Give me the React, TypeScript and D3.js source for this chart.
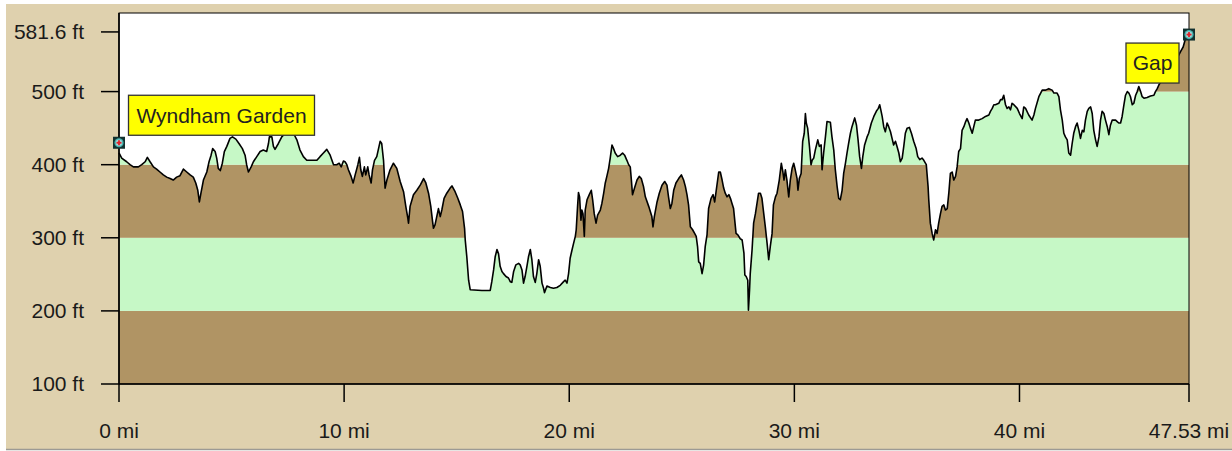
import React from "react";
import * as d3 from "d3";

// ---- data ----
const distanceMi = [
  0.00, 0.12, 0.34, 0.49, 0.64, 0.86, 1.01, 1.16, 1.26, 1.38, 1.53, 1.67, 1.82, 1.97, 2.12, 2.27, 2.41, 2.56, 2.71, 2.86,
  3.01, 3.16, 3.30, 3.41, 3.50, 3.57, 3.64, 3.75, 3.90, 4.00, 4.09, 4.16, 4.27, 4.34, 4.41, 4.50, 4.59, 4.68, 4.79, 4.93,
  5.04, 5.19, 5.33, 5.48, 5.60, 5.67, 5.75, 5.87, 5.97, 6.12, 6.27, 6.41, 6.56, 6.64, 6.68, 6.79, 6.86, 6.93, 7.08, 7.23,
  7.38, 7.53, 7.75, 7.90, 8.04, 8.19, 8.34, 8.56, 8.79, 8.93, 9.08, 9.23, 9.38, 9.53, 9.67, 9.78, 9.87, 9.97, 10.04, 10.12,
  10.19, 10.31, 10.40, 10.49, 10.61, 10.68, 10.74, 10.81, 10.90, 10.96, 11.05, 11.11, 11.20, 11.26, 11.35, 11.45, 11.60, 11.67, 11.75, 11.82,
  11.90, 12.04, 12.19, 12.34, 12.49, 12.64, 12.74, 12.83, 12.86, 12.93, 13.08, 13.23, 13.38, 13.53, 13.63, 13.75, 13.85, 13.93, 13.97, 14.04,
  14.15, 14.19, 14.27, 14.34, 14.44, 14.56, 14.71, 14.79, 14.93, 15.05, 15.16, 15.26, 15.35, 15.38, 15.45, 15.53, 15.60, 16.12, 16.49, 16.56,
  16.64, 16.71, 16.79, 16.86, 16.93, 17.01, 17.08, 17.19, 17.30, 17.38, 17.45, 17.53, 17.63, 17.75, 17.82, 17.90, 17.97, 18.04, 18.12, 18.19,
  18.27, 18.34, 18.41, 18.49, 18.56, 18.64, 18.71, 18.79, 18.86, 18.90, 19.01, 19.16, 19.30, 19.45, 19.60, 19.75, 19.82, 19.90, 19.97, 20.04,
  20.12, 20.19, 20.27, 20.31, 20.37, 20.41, 20.46, 20.52, 20.56, 20.61, 20.67, 20.71, 20.79, 20.89, 20.98, 21.04, 21.11, 21.19, 21.26, 21.38,
  21.45, 21.53, 21.60, 21.67, 21.75, 21.82, 21.90, 21.97, 22.04, 22.15, 22.27, 22.37, 22.46, 22.56, 22.64, 22.71, 22.76, 22.81, 22.90, 23.01,
  23.11, 23.20, 23.30, 23.38, 23.53, 23.67, 23.72, 23.78,
  23.90, 24.00, 24.12, 24.24, 24.34, 24.41, 24.49, 24.56, 24.64, 24.74, 24.86, 24.98, 25.08, 25.16, 25.23, 25.30, 25.38, 25.48, 25.57, 25.64,
  25.70, 25.75, 25.82, 25.90, 25.97, 26.04, 26.12, 26.19, 26.30, 26.39, 26.46, 26.53, 26.64, 26.71, 26.79, 26.86, 26.93, 27.01, 27.09, 27.16,
  27.23, 27.30, 27.41, 27.49, 27.59, 27.68, 27.76, 27.80, 27.86, 27.93, 27.96, 28.01, 28.04, 28.12, 28.19, 28.27, 28.34, 28.41, 28.49, 28.56,
  28.64, 28.71, 28.79, 28.86, 28.93, 29.01, 29.07, 29.16, 29.23, 29.33, 29.42, 29.49, 29.54, 29.60, 29.67, 29.75, 29.82, 29.90, 29.97, 30.04,
  30.12, 30.16, 30.22, 30.30, 30.37, 30.44, 30.49, 30.53, 30.59, 30.67, 30.74, 30.79, 30.86, 30.93, 31.04, 31.11, 31.19, 31.23, 31.30, 31.38,
  31.45, 31.60, 31.67, 31.75, 31.82, 31.90, 31.97, 32.04, 32.12, 32.19, 32.27, 32.34, 32.41, 32.49, 32.56, 32.68, 32.76, 32.83, 32.90, 32.98,
  33.04, 33.12, 33.23, 33.30, 33.42, 33.53, 33.64, 33.73, 33.79, 33.84, 33.90, 33.97, 34.04, 34.12, 34.19, 34.27, 34.34, 34.41, 34.49, 34.56,
  34.64, 34.71, 34.79, 34.86, 34.93, 35.01, 35.11, 35.20, 35.30, 35.41, 35.48, 35.57, 35.67, 35.75, 35.86,
  35.94, 35.97, 36.04, 36.12, 36.19, 36.27, 36.34, 36.41, 36.49, 36.56, 36.64, 36.71, 36.79, 36.86, 36.93, 37.01, 37.08, 37.16, 37.23, 37.30,
  37.38, 37.45, 37.53, 37.61, 37.67, 37.75, 37.82, 37.90, 37.97, 38.04, 38.19, 38.34, 38.49, 38.64, 38.71, 38.79, 38.86, 38.93, 39.08, 39.16,
  39.23, 39.30, 39.38, 39.45, 39.53, 39.60, 39.67, 39.75, 39.90, 40.00, 40.12, 40.19, 40.27, 40.41, 40.56, 40.64, 40.71, 40.86, 41.01, 41.16,
  41.30, 41.45, 41.53, 41.67, 41.75, 41.82, 41.90, 41.97, 42.04, 42.12, 42.19, 42.27, 42.34, 42.41, 42.49, 42.56, 42.64, 42.71, 42.79, 42.86,
  42.93, 43.01, 43.08, 43.16, 43.23, 43.30, 43.38, 43.45, 43.53, 43.60, 43.67, 43.75, 43.82, 43.90, 43.97, 44.04, 44.12, 44.27, 44.34, 44.41,
  44.49, 44.56, 44.64, 44.71, 44.79, 44.86, 44.93, 45.01, 45.08, 45.16, 45.23, 45.30, 45.38, 45.45, 45.53, 45.67, 45.82, 45.97, 46.04, 46.12,
  46.19, 46.34, 46.56, 46.79, 47.01, 47.16, 47.27, 47.36, 47.47, 47.53,
];

const elevationFt = [
  416, 409, 404, 400, 397, 397, 400, 404, 410, 404, 397, 394, 390, 386, 383, 381, 379, 383, 385, 394,
  390, 386, 383, 375, 365, 349, 361, 379, 390, 404, 413, 422, 418, 409, 395, 392, 402, 418, 425, 436,
  438, 435, 429, 422, 413, 400, 390, 397, 404, 411, 418, 420, 418, 429, 438, 438, 425, 421, 429, 438,
  443, 444, 443, 434, 420, 411, 406, 406, 406, 411, 416, 421, 413, 400, 400, 402, 397, 405, 404, 400,
  393, 384, 375, 386, 400, 410, 393, 384, 397, 386, 397, 386, 375, 393, 406, 411, 432, 429, 406, 368,
  379, 393, 402, 395, 377, 363, 343, 327, 320, 343, 359, 365, 372, 381, 375, 361, 343, 322, 313, 318,
  334, 340, 329, 338, 354, 361, 368, 371, 363, 354, 345, 336, 313, 297, 274, 242, 229, 228, 228, 240,
  256, 274, 284, 278, 261, 254, 251, 247, 245, 240, 239, 254, 263, 265, 263, 256, 238, 247, 261, 274,
  284, 270, 247, 239, 251, 270, 261, 238, 231, 225, 234, 232, 231, 232, 235, 240, 242, 238, 251, 272,
  283, 292, 302, 311, 343, 362, 356, 324, 338, 333, 302, 338, 352, 359, 365, 352, 333, 320, 331, 338,
  347, 361, 375, 384, 395, 409, 427, 422, 416, 411, 413, 416, 413, 406, 400, 397, 379, 359, 368, 379,
  384, 381, 370, 356, 343, 329, 315, 329,
  349, 361, 372, 377, 372, 356, 340, 347, 365, 375, 381, 386, 379, 370, 359, 345, 315, 311, 306, 302,
  288, 267, 265, 251, 263, 288, 304, 340, 354, 359, 349, 365, 390, 390, 379, 368, 361, 356, 359, 354,
  347, 340, 306, 304, 299, 297, 279, 249, 247, 242, 201, 229, 251, 283, 320, 333, 347, 361, 361, 354,
  333, 315, 292, 270, 288, 306, 345, 356, 361, 379, 402, 390, 379, 393, 379, 356, 379, 395, 402, 393,
  381, 365, 381, 388, 432, 443, 470, 457, 450, 425, 400, 406, 409, 420, 434, 425, 427, 393, 416, 438,
  459, 458, 438, 420, 393, 370, 354, 352, 365, 388, 402, 416, 429, 443, 452, 464, 454, 434, 411, 395,
  411, 427, 438, 443, 457, 466, 473, 477, 482, 475, 466, 452, 445, 457, 452, 445, 436, 427, 432, 425,
  416, 404, 409, 425, 443, 450, 451, 443, 432, 422, 411, 407, 409, 406, 400,
  370, 352, 320, 306, 297, 311, 306, 320, 333, 343, 345, 338, 340, 361, 388, 390, 379, 384, 397, 418,
  422, 447, 452, 459, 463, 457, 450, 443, 452, 461, 461, 463, 466, 468, 473, 477, 482, 482, 484, 489,
  489, 495, 482, 477, 479, 475, 484, 482, 477, 470, 463, 479, 477, 468, 461, 468, 477, 493, 502, 502,
  504, 502, 498, 498, 493, 475, 461, 443, 438, 434, 416, 413, 429, 443, 452, 457, 447, 436, 447, 445,
  461, 473, 477, 479, 470, 447, 434, 425, 438, 461, 473, 470, 461, 452, 441, 454, 461, 461, 459, 457,
  457, 466, 482, 495, 500, 498, 493, 482, 484, 495, 500, 507, 500, 493, 491, 492, 494, 495, 500, 504,
  509, 517, 525, 534, 546, 555, 561, 571, 577, 581.6,
];

const yTickValues = [100, 200, 300, 400, 500, 581.6];
const yTickLabels = ["100 ft", "200 ft", "300 ft", "400 ft", "500 ft", "581.6 ft"];
const xTickValues = [0, 10, 20, 30, 40, 47.53];
const xTickLabels = ["0 mi", "10 mi", "20 mi", "30 mi", "40 mi", "47.53 mi"];

const bandEdgesFt = [100, 200, 300, 400, 500];

const waypointNames = ["Wyndham Garden", "Gap"];
const waypointMi = [0, 47.53];
const waypointFt = [430, 578];

// ---- layout ----
const W = 1232;
const H = 451;
const PL = 119;
const PR = 1189;
const PT = 13;
const PB = 384;
const Y_MIN = 100;
const Y_MAX = 607.5;

const TAN = "#DFD1AE";
const BROWN = "#B09464";
const GREEN = "#C6F8C6";
const FONT = "'Liberation Sans', Arial, sans-serif";

function Marker({ x, y }: { x: number; y: number }) {
  return (
    <g transform={`translate(${x},${y})`}>
      <rect x={-6} y={-6} width={12} height={12} fill="#12302F" />
      <circle r={4.6} fill="#45B0AE" />
      <circle r={3.2} fill="#9FD8D6" />
      <rect x={-2.5} y={-0.9} width={5} height={1.8} fill="#E0202A" />
      <rect x={-0.9} y={-2.5} width={1.8} height={5} fill="#E0202A" />
    </g>
  );
}

export default function App() {
  const x = d3.scaleLinear().domain([0, 47.53]).range([PL, PR]);
  const y = d3.scaleLinear().domain([Y_MIN, Y_MAX]).range([PB, PT]);

  const pts = distanceMi.map((d, i) => [d, elevationFt[i]] as [number, number]);
  const area = d3
    .area<[number, number]>()
    .x((d) => x(d[0]))
    .y0(y(Y_MIN))
    .y1((d) => y(d[1]));
  const line = d3
    .line<[number, number]>()
    .x((d) => x(d[0]))
    .y((d) => y(d[1]));

  const bands = bandEdgesFt.map((lo, i) => {
    const hi = i + 1 < bandEdgesFt.length ? bandEdgesFt[i + 1] : Y_MAX;
    return { lo, hi, color: i % 2 === 0 ? BROWN : GREEN };
  });

  const m0x = x(waypointMi[0]);
  const m0y = y(waypointFt[0]);
  const m1x = x(waypointMi[1]);
  const m1y = y(waypointFt[1]);

  return (
    <svg
      width={W}
      height={H}
      style={{ position: "absolute", left: 0, top: 0, display: "block" }}
      fontFamily={FONT}
    >
      <rect x={0} y={0} width={W} height={H} fill="#ffffff" />
      <rect x={6} y={4} width={W - 6} height={445} fill={TAN} />
      <line x1={6} x2={W} y1={449.5} y2={449.5} stroke="#9C9A94" strokeWidth={1.5} />

      <defs>
        <clipPath id="profileClip">
          <path d={area(pts) || ""} />
        </clipPath>
      </defs>

      <rect x={PL} y={PT} width={PR - PL} height={PB - PT} fill="#ffffff" />
      <g clipPath="url(#profileClip)">
        {bands.map((b, i) => (
          <rect
            key={i}
            x={PL}
            width={PR - PL}
            y={y(b.hi)}
            height={y(b.lo) - y(b.hi)}
            fill={b.color}
          />
        ))}
      </g>
      <path
        d={line(pts) || ""}
        fill="none"
        stroke="#000"
        strokeWidth={1.6}
        strokeLinejoin="round"
      />

      {/* frame */}
      <rect x={PL} y={PT} width={PR - PL} height={PB - PT} fill="none" stroke="#000" strokeWidth={1} />
      <line x1={PL} x2={PL} y1={PT} y2={PB} stroke="#000" strokeWidth={1.6} />
      <line x1={PL} x2={PR} y1={PB} y2={PB} stroke="#000" strokeWidth={1.6} />

      {/* y axis */}
      {yTickValues.map((v, i) => (
        <g key={`y${i}`}>
          <line x1={101} x2={PL} y1={y(v)} y2={y(v)} stroke="#000" strokeWidth={1.5} />
          <text
            x={84}
            y={y(v)}
            dy="0.35em"
            textAnchor="end"
            fontSize={21}
            fill="#1a1a1a"
          >
            {yTickLabels[i]}
          </text>
        </g>
      ))}

      {/* x axis */}
      {xTickValues.map((v, i) => (
        <g key={`x${i}`}>
          <line x1={x(v)} x2={x(v)} y1={PB} y2={402} stroke="#000" strokeWidth={1.5} />
          <text x={x(v)} y={438} textAnchor="middle" fontSize={21} fill="#1a1a1a">
            {xTickLabels[i]}
          </text>
        </g>
      ))}

      {/* waypoints */}
      <Marker x={m0x} y={m0y} />
      <Marker x={m1x} y={m1y} />

      <g>
        <rect x={m0x + 9.5} y={m0y - 47.5} width={186} height={40} fill="#FFFF00" stroke="#333" strokeWidth={1.3} />
        <text x={m0x + 9.5 + 93} y={m0y - 27.5} dy="0.35em" textAnchor="middle" fontSize={21} fill="#222">
          {waypointNames[0]}
        </text>
      </g>
      <g>
        <rect x={m1x - 63} y={m1y + 8.5} width={53} height={40} fill="#FFFF00" stroke="#333" strokeWidth={1.3} />
        <text x={m1x - 63 + 26.5} y={m1y + 28.5} dy="0.35em" textAnchor="middle" fontSize={21} fill="#222">
          {waypointNames[1]}
        </text>
      </g>
    </svg>
  );
}
